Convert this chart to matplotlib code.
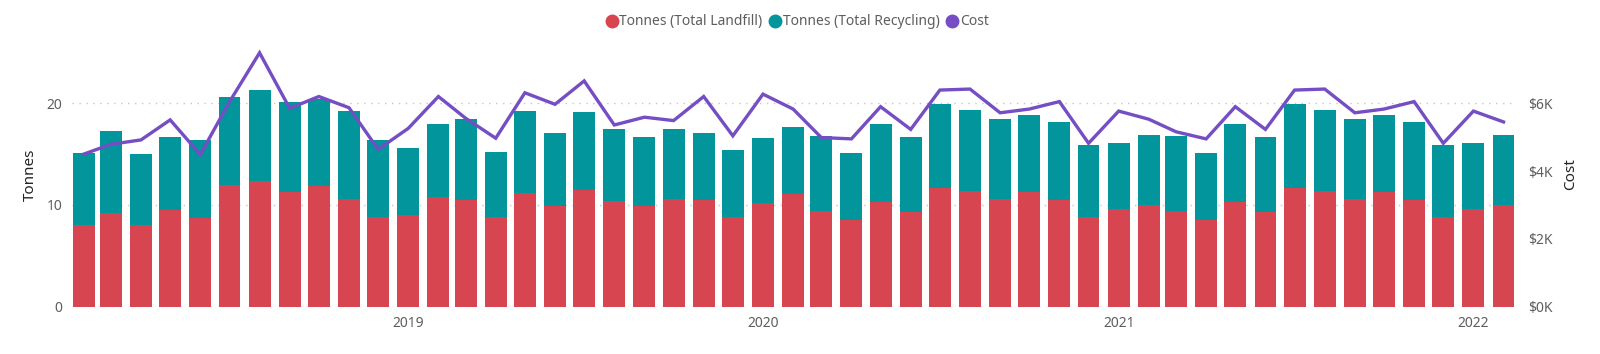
import matplotlib
matplotlib.use("Agg")
import matplotlib.pyplot as plt
from matplotlib.lines import Line2D
from matplotlib.ticker import FuncFormatter
import pandas as pd

plt.rcParams['font.family'] = ['Noto Sans', 'DejaVu Sans']

months = pd.date_range('2018-02-01', periods=49, freq='MS')

landfill = [8.00, 9.18, 8.03, 9.48, 8.69, 11.97, 12.33, 11.25, 11.90, 10.59,
            8.85, 8.98, 10.75, 10.49, 8.86, 11.18, 9.93, 11.44, 10.36, 9.87,
            10.59, 10.46, 8.79, 10.20, 11.08, 9.41, 8.49, 10.32, 9.31, 11.70,
            11.35, 10.56, 11.25, 10.53, 8.82, 9.60, 9.97, 9.44, 8.49, 10.32,
            9.31, 11.70, 11.35, 10.56, 11.25, 10.53, 8.82, 9.60, 9.97]

recycling = [7.08, 8.07, 7.02, 7.24, 7.67, 8.68, 8.95, 8.85, 8.49, 8.62,
             7.55, 6.59, 7.21, 8.00, 6.35, 8.09, 7.15, 7.74, 7.08, 6.85,
             6.88, 6.59, 6.59, 6.42, 6.59, 7.37, 6.62, 7.64, 7.41, 8.20,
             7.99, 7.86, 7.63, 7.60, 7.05, 6.50, 6.91, 7.34, 6.62, 7.64,
             7.41, 8.20, 7.99, 7.86, 7.63, 7.60, 7.05, 6.50, 6.91]

cost = [4500, 4790, 4920, 5510, 4490, 6040, 7490, 5850, 6200, 5870,
        4640, 5260, 6200, 5560, 4970, 6310, 5970, 6660, 5360, 5590,
        5490, 6200, 5040, 6270, 5830, 4990, 4950, 5900, 5230, 6390,
        6420, 5720, 5830, 6050, 4820, 5770, 5530, 5160, 4950, 5900,
        5230, 6390, 6420, 5720, 5830, 6050, 4820, 5770, 5450]

year_ticks = ['2019-01-01', '2020-01-01', '2021-01-01', '2022-01-01']
year_labels = ['2019', '2020', '2021', '2022']

RED = '#D64550'
TEAL = '#02959B'
PURPLE = '#744EC2'
TICK = '#605E5C'
TITLE = '#252423'

fig = plt.figure(figsize=(16, 3.54), dpi=100)
ax = fig.add_axes([0.045, 0.1336, 0.902, 0.747])

bw = 22.5
ax.bar(months, landfill, width=bw, color=RED, zorder=2)
ax.bar(months, recycling, width=bw, bottom=landfill, color=TEAL, zorder=2)

ax.set_ylim(0, 26)
ax.set_xlim(pd.Timestamp('2018-01-20'), pd.Timestamp('2022-02-13'))
ax.set_yticks([0, 10, 20])
ax.yaxis.grid(True, linestyle=(0, (1, 4)), color='#C8C6C4', linewidth=1.0, zorder=0)
ax.set_axisbelow(True)
ax.set_xticks(pd.to_datetime(year_ticks))
ax.set_xticklabels(year_labels)
for s in ax.spines.values():
    s.set_visible(False)
ax.tick_params(axis='both', length=0, labelsize=10, colors=TICK)
ax.tick_params(axis='x', pad=7)
ax.tick_params(axis='y', pad=7)
ax.set_ylabel('Tonnes', fontsize=11, color=TITLE, labelpad=6, fontweight='medium')

ax2 = ax.twinx()
ax2.plot(months, cost, color=PURPLE, linewidth=2.4, solid_joinstyle='miter', zorder=3)
ax2.set_ylim(0, 26 * 300)
ax2.set_yticks([0, 2000, 4000, 6000])
ax2.yaxis.set_major_formatter(FuncFormatter(lambda v, p: '$%dK' % round(v / 1000)))
for s in ax2.spines.values():
    s.set_visible(False)
ax2.tick_params(axis='y', length=0, labelsize=10, colors=TICK, pad=9)
ax2.set_ylabel('Cost', fontsize=11, color=TITLE, labelpad=8, fontweight='medium')
ax2.yaxis.label.set_rotation(90)

handles = [Line2D([], [], marker='o', linestyle='none', markersize=9, color=c)
           for c in (RED, TEAL, PURPLE)]
fig.legend(handles, ['Tonnes (Total Landfill)', 'Tonnes (Total Recycling)', 'Cost'],
           loc='center', bbox_to_anchor=(0.498, 0.938), ncol=3, frameon=False,
           fontsize=10, handletextpad=0.05, columnspacing=0.4, labelcolor=TICK,
           borderaxespad=0, handlelength=1.0)

fig.savefig('out.png', dpi=100, facecolor='white')
